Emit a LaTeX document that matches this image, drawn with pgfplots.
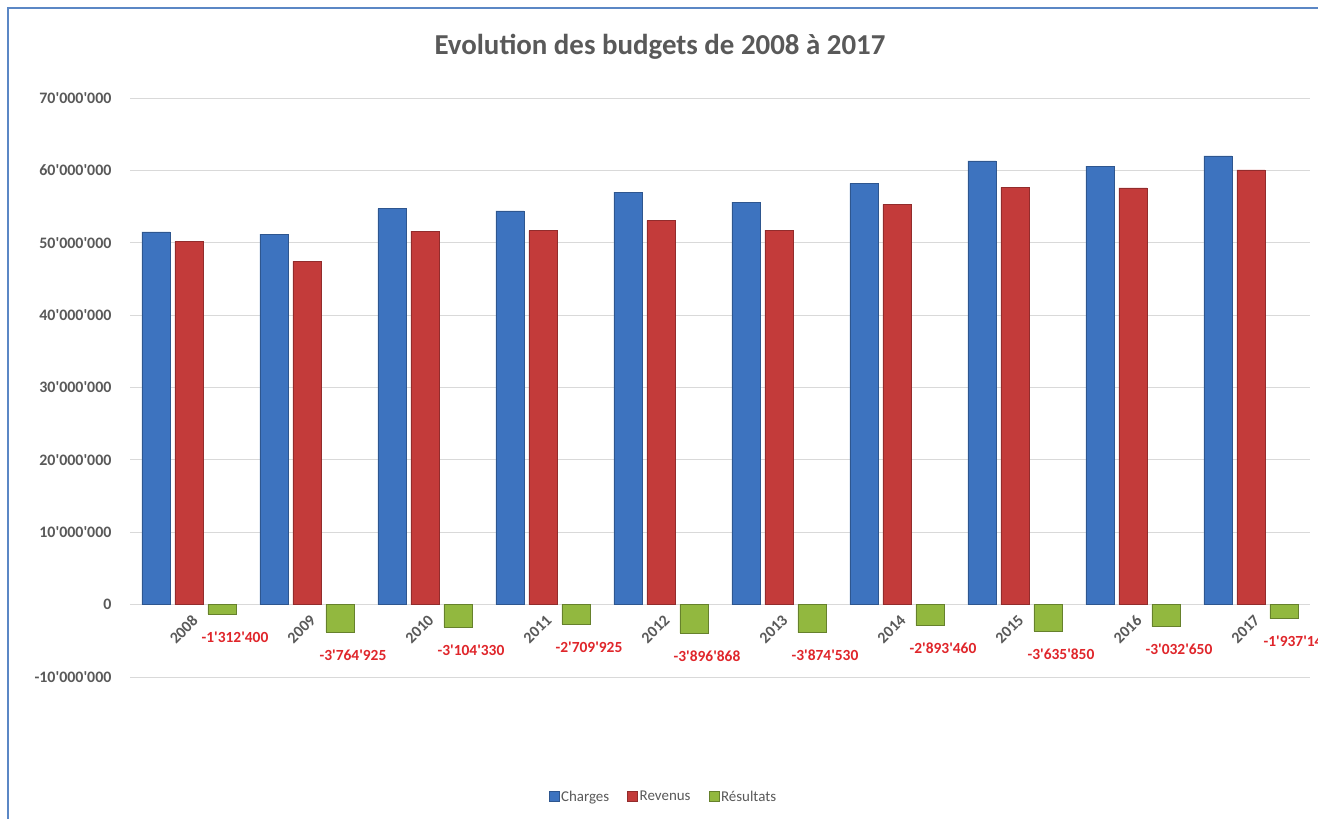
\documentclass[border=0pt]{standalone}
\usepackage{pgfplots}
\pgfplotsset{compat=1.18}
\usepackage{fontspec}
\newfontfamily\carl{Carlito}
\definecolor{txtgray}{HTML}{595959}
\definecolor{cblue}{HTML}{3D73BF}
\definecolor{cred}{HTML}{C33B3A}
\definecolor{cgreen}{HTML}{92B83F}
\definecolor{lred}{HTML}{E0262B}
\definecolor{framec}{HTML}{5B87C5}
\tikzset{yearlab/.style={rotate=45, anchor=north east, inner sep=0pt, font=\carl\bfseries\fontsize{16}{19}\selectfont, text=txtgray, xshift=-5bp, yshift=-8bp}}
\begin{document}
\begin{tikzpicture}
\useasboundingbox (0bp,0bp) rectangle (1318bp,819bp);
\fill[white] (0bp,0bp) rectangle (1318bp,819bp);
\draw[framec, line width=1.5bp] (8bp,0bp) -- (8bp,811bp) -- (1318bp,811bp);
\node[font=\carl\bfseries\fontsize{29}{34}\selectfont, text=txtgray] at (660bp,772bp) {Evolution des budgets de 2008 à 2017};
\begin{axis}[
  at={(130bp,142bp)}, anchor=south west, scale only axis,
  width=1180bp, height=579bp,
  ymin=-10000000, ymax=70000000, xmin=-0.5, xmax=9.5,
  axis line style={draw=none}, tick style={draw=none},
  ymajorgrids, grid style={draw=black!15, line width=0.8bp},
  ytick={-10000000,0,10000000,20000000,30000000,40000000,50000000,60000000,70000000},
  yticklabels={-10'000'000,0,10'000'000,20'000'000,30'000'000,40'000'000,50'000'000,60'000'000,70'000'000},
  scaled y ticks=false,
  yticklabel style={font=\carl\bfseries\fontsize{16}{19}\selectfont, text=txtgray, xshift=-15bp},
  xtick=\empty,
  clip=false,
  legend image code/.code={\fill[#1] (0bp,-4bp) rectangle (10bp,6bp);},
  legend style={at={(0.452,-0.207)}, anchor=center, draw=none, fill=none, legend columns=-1,
    font=\carl\fontsize{15}{18}\selectfont, text=txtgray,
    /tikz/every even column/.append style={column sep=16bp}},
]
\addplot[ybar, bar width=28bp, bar shift=-33bp, draw=cblue!75!black, line width=0.5bp, fill=cblue]
coordinates {(0,51500000) (1,51200000) (2,54700000) (3,54400000) (4,57000000) (5,55600000) (6,58200000) (7,61300000) (8,60600000) (9,62000000)};
\addplot[ybar, bar width=28bp, bar shift=0bp, draw=cred!75!black, line width=0.5bp, fill=cred]
coordinates {(0,50190000) (1,47440000) (2,51600000) (3,51690000) (4,53100000) (5,51730000) (6,55310000) (7,57660000) (8,57570000) (9,60060000)};
\addplot[ybar, bar width=28bp, bar shift=33bp, draw=cgreen!70!black, line width=0.5bp, fill=cgreen,
  nodes near coords, point meta=explicit symbolic,
  every node near coord/.style={anchor=center, yshift=-23bp, xshift=46bp, font=\carl\bfseries\fontsize{15.5}{18}\selectfont, text=lred}]
coordinates {(0,-1312400) [-1'312'400] (1,-3764925) [-3'764'925] (2,-3104330) [-3'104'330] (3,-2709925) [-2'709'925] (4,-3896868) [-3'896'868] (5,-3874530) [-3'874'530] (6,-2893460) [-2'893'460] (7,-3635850) [-3'635'850] (8,-3032650) [-3'032'650] (9,-1937140) [-1'937'140]};
\legend{Charges, Revenus, Résultats}
\node[yearlab] at (axis cs:0,0) {2008};
\node[yearlab] at (axis cs:1,0) {2009};
\node[yearlab] at (axis cs:2,0) {2010};
\node[yearlab] at (axis cs:3,0) {2011};
\node[yearlab] at (axis cs:4,0) {2012};
\node[yearlab] at (axis cs:5,0) {2013};
\node[yearlab] at (axis cs:6,0) {2014};
\node[yearlab] at (axis cs:7,0) {2015};
\node[yearlab] at (axis cs:8,0) {2016};
\node[yearlab] at (axis cs:9,0) {2017};
\end{axis}
\end{tikzpicture}
\end{document}
